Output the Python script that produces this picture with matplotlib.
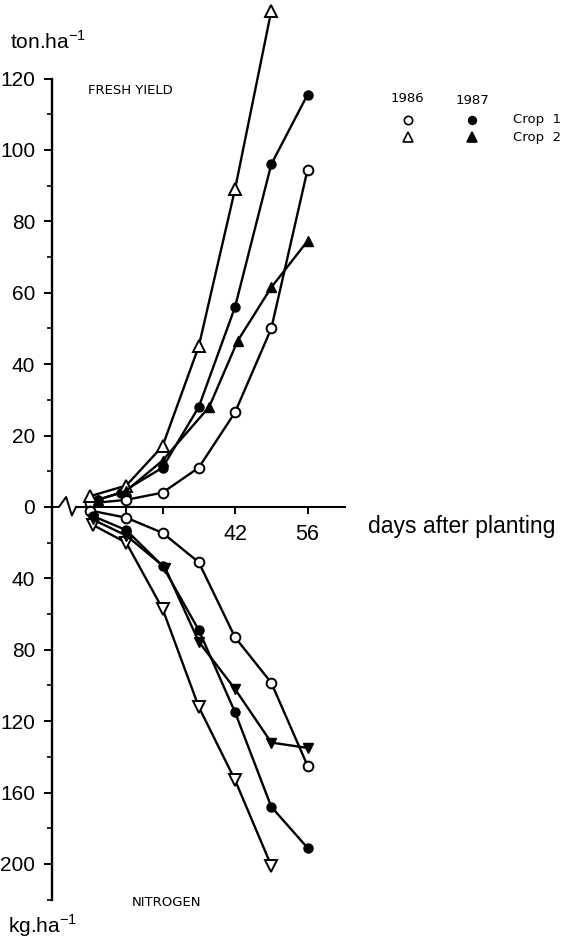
import matplotlib
matplotlib.use("Agg")
import matplotlib.pyplot as plt
import numpy as np
from matplotlib.lines import Line2D

plt.rcParams['font.family'] = ['Liberation Sans', 'DejaVu Sans']
plt.rcParams['mathtext.fontset'] = 'custom'
plt.rcParams['mathtext.rm'] = 'Liberation Sans'

# fresh yield, ton/ha
y_days_c1_86 = [14, 21, 28, 35, 42, 49, 56]
y_c1_86 = [1, 2, 4, 11, 26.5, 50, 94.5]
y_days_c1_87 = [15.5, 20, 28, 35, 42, 49, 56]
y_c1_87 = [2, 4, 11, 28, 56, 96, 115.5]
y_days_c2_86 = [14, 21, 28, 35, 42, 49]
y_c2_86 = [3, 6, 17, 45, 89, 139]
y_days_c2_87 = [15.5, 21, 28, 37, 42.5, 49, 56]
y_c2_87 = [2, 4.5, 13, 28, 46.5, 61.5, 74.5]

# nitrogen uptake, kg/ha
n_days_c1_86 = [14, 21, 28, 35, 42, 49, 56]
n_c1_86 = [2, 6, 14.5, 31, 73, 98.5, 145]
n_days_c1_87 = [14.5, 21, 28, 35, 42, 49, 56]
n_c1_87 = [5, 13, 33, 69, 115, 168, 191]
n_days_c2_86 = [14.5, 21, 28, 35, 42, 49]
n_c2_86 = [10, 20, 57, 112, 153, 201]
n_days_c2_87 = [14.5, 21, 28.5, 35, 42, 49, 56]
n_c2_87 = [7, 16, 34, 75.5, 102, 132, 135]

top_ticks = [0, 20, 40, 60, 80, 100, 120]
bottom_ticks = [40, 80, 120, 160, 200]
x_ticks = [21, 28, 42, 56]
x_labels = ['', '', '42', '56']

W, H = 578, 940
fig = plt.figure(figsize=(W / 100, H / 100), dpi=100)
ax = fig.add_axes([52 / W, 0, 526 / W, 1])
ax.set_xlim(6.67, 108.2)
ax.set_ylim(-121.3, 142)

# nitrogen scale is 40 kg per 20 ton, plotted below zero
nscale = 0.5

lw = 1.7
open_kw = dict(color='black', lw=lw, mfc='white', mec='black', mew=1.4, clip_on=False)
fill_kw = dict(color='black', lw=lw, mfc='black', mec='black', clip_on=False)

ax.plot(y_days_c1_86, y_c1_86, marker='o', ms=7, **open_kw)
ax.plot(y_days_c1_87, y_c1_87, marker='o', ms=6.5, **fill_kw)
ax.plot(y_days_c2_86, y_c2_86, marker='^', ms=8, **open_kw)
ax.plot(y_days_c2_87, y_c2_87, marker='^', ms=7.5, **fill_kw)

ax.plot(n_days_c1_86, -nscale * np.array(n_c1_86), marker='o', ms=7, **open_kw)
ax.plot(n_days_c1_87, -nscale * np.array(n_c1_87), marker='o', ms=6.5, **fill_kw)
ax.plot(n_days_c2_86, -nscale * np.array(n_c2_86), marker='v', ms=8, **open_kw)
ax.plot(n_days_c2_87, -nscale * np.array(n_c2_87), marker='v', ms=7.5, **fill_kw)

# axes
for s in ['top', 'right']:
    ax.spines[s].set_visible(False)
ax.spines['left'].set_bounds(-110, 120)
ax.spines['left'].set_linewidth(1.7)
ax.spines['bottom'].set_position(('data', 0))
ax.spines['bottom'].set_bounds(11.3, 63.2)
ax.spines['bottom'].set_linewidth(1.5)

# axis break zigzag near the origin
ax.plot([6.67, 8.0, 9.4, 10.5, 11.3], [0, 0, 2.8, -2.4, 0], color='black', lw=1.4, clip_on=False)

yt = [-nscale * v for v in bottom_ticks[::-1]] + top_ticks
yl = [str(v) for v in bottom_ticks[::-1]] + [str(v) for v in top_ticks]
ax.set_yticks(yt)
ax.set_yticklabels(yl)
ax.set_yticks(np.arange(-110, 120, 20), minor=True)
ax.tick_params(axis='y', which='major', direction='out', length=6, width=1.4, pad=6, labelsize=15)
ax.tick_params(axis='y', which='minor', direction='out', length=3.5, width=1.2)

ax.set_xticks(x_ticks)
ax.set_xticklabels(x_labels)
ax.tick_params(axis='x', direction='out', length=5, width=1.4, pad=7, labelsize=15.5)

# texts
def ft(x, y, s, **kw):
    fig.text(x / W, 1 - y / H, s, **kw)

ft(10, 42, 'ton.ha$^{-1}$', fontsize=15, va='center', ha='left')
ft(8, 926, 'kg.ha$^{-1}$', fontsize=15, va='center', ha='left')
ft(88, 90, 'FRESH YIELD', fontsize=9.5, family='DejaVu Sans', va='center', ha='left')
ft(132, 903, 'NITROGEN', fontsize=9.5, family='DejaVu Sans', va='center', ha='left')
ft(368, 527, 'days after planting', fontsize=16.5, va='center', ha='left')

# legend
ft(407, 98, '1986', fontsize=9.5, family='DejaVu Sans', va='center', ha='center')
ft(472, 100, '1987', fontsize=9.5, family='DejaVu Sans', va='center', ha='center')
ft(513, 120, 'Crop  1', fontsize=9.5, family='DejaVu Sans', va='center', ha='left')
ft(513, 137, 'Crop  2', fontsize=9.5, family='DejaVu Sans', va='center', ha='left')
leg = [(408, 120, 'o', 'white', 6), (472, 120, 'o', 'black', 5.5),
       (408, 137, '^', 'white', 6.5), (472, 137, '^', 'black', 6.5)]
for lx, ly, m, fc, ms in leg:
    fig.add_artist(Line2D([lx / W], [1 - ly / H], marker=m, ms=ms, mfc=fc, mec='black',
                          mew=1.2, ls='none', transform=fig.transFigure))

fig.savefig('out.png', dpi=100)
